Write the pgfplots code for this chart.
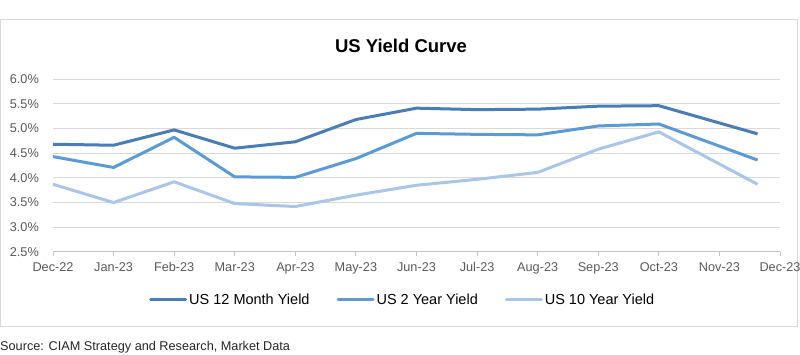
\documentclass[border=0pt]{standalone}
\usepackage{pgfplots}
\pgfplotsset{compat=1.18}
\usepackage{fontspec}
\setmainfont{Liberation Sans}
\definecolor{cDark}{HTML}{4A7DB5}
\definecolor{cMed}{HTML}{5B9BD5}
\definecolor{cLight}{HTML}{A9C6E8}
\definecolor{cTick}{HTML}{595959}
\definecolor{cGrid}{HTML}{D9D9D9}
\definecolor{cFrame}{HTML}{D9D9D9}
\begin{document}
\begin{tikzpicture}
\useasboundingbox (0,0) rectangle (800bp,355bp);
\draw[cFrame, line width=1bp] (0.5bp,28bp) rectangle (797bp,335bp);
\node[anchor=base, font=\fontsize{18.5bp}{22bp}\selectfont\bfseries] at (401bp,302bp) {US Yield Curve};
\node[anchor=base west, inner sep=0pt, text=black!85, font=\fontsize{12.7bp}{15bp}\selectfont] at (0bp,5bp) {Source: CIAM Strategy and Research, Market Data};
\begin{axis}[
  at={(53bp,103bp)}, anchor=south west,
  scale only axis, width=727bp, height=173bp,
  xmin=0, xmax=12, ymin=2.5, ymax=6.0,
  xtick={0,...,12},
  xticklabels={Dec-22,Jan-23,Feb-23,Mar-23,Apr-23,May-23,Jun-23,Jul-23,Aug-23,Sep-23,Oct-23,Nov-23,Dec-23},
  ytick={2.5,3.0,...,6.0},
  yticklabel={\pgfmathprintnumber[fixed,fixed zerofill,precision=1]{\tick}\%},
  /pgf/number format/assume math mode=true,
  axis x line*=bottom, axis y line*=left,
  y axis line style={draw=none},
  x axis line style={draw=cGrid!90!black, line width=1bp, -},
  ytick style={draw=none},
  xtick style={draw=cGrid!90!black, line width=1bp},
  tick align=outside, major tick length=4bp,
  ymajorgrids, grid style={cGrid, line width=1bp},
  ticklabel style={text=cTick, font=\fontsize{12.7bp}{15bp}\selectfont},
  yticklabel style={inner sep=0pt, xshift=-10bp},
  xticklabel style={inner sep=0pt, yshift=-6.5bp},
  legend columns=-1,
  legend style={at={(0.481,-0.277)}, anchor=center, draw=none, fill=none,
    font=\fontsize{14.5bp}{17bp}\selectfont, /tikz/every even column/.append style={column sep=25bp}},
  legend image code/.code={\draw[#1, line cap=round] (0bp,0bp) -- (35bp,0bp);},
  every axis plot/.append style={line width=3bp, line join=round, mark=none},
  clip=false,
]
\addplot[cDark] coordinates {(0,4.68) (1,4.66) (2,4.97) (3,4.60) (4,4.73) (5,5.18) (6,5.41) (7,5.38) (8,5.39) (9,5.45) (10,5.46) (11.63,4.89)};
\addlegendentry{US 12 Month Yield}
\addplot[cMed] coordinates {(0,4.43) (1,4.21) (2,4.82) (3,4.02) (4,4.01) (5,4.39) (6,4.90) (7,4.88) (8,4.87) (9,5.05) (10,5.09) (11.63,4.36)};
\addlegendentry{US 2 Year Yield}
\addplot[cLight] coordinates {(0,3.87) (1,3.50) (2,3.92) (3,3.48) (4,3.42) (5,3.65) (6,3.85) (7,3.97) (8,4.11) (9,4.58) (10,4.93) (11.63,3.87)};
\addlegendentry{US 10 Year Yield}
\end{axis}
\end{tikzpicture}
\end{document}
